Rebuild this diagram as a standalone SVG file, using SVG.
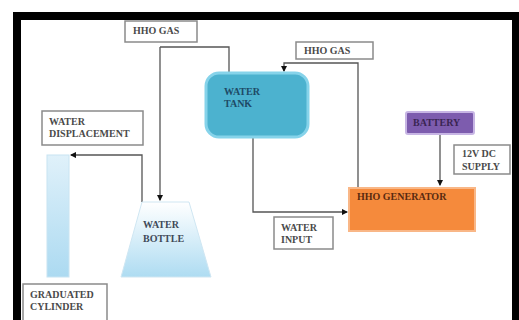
<svg xmlns="http://www.w3.org/2000/svg" width="519" height="320" viewBox="0 0 519 320">
<defs>
<style>
.lbl{fill:#fff;stroke:#8a8a8a;stroke-width:1.5}
.t{font-family:"Liberation Serif","Times New Roman",serif;font-size:10px;font-weight:bold;fill:#4a4a4a}
.con{fill:none;stroke:#555;stroke-width:1.3}
</style>
<linearGradient id="blue" x1="0" y1="0" x2="0" y2="1">
<stop offset="0" stop-color="#ffffff"/>
<stop offset="1" stop-color="#aedcf2"/>
</linearGradient>
<linearGradient id="cyl" x1="0" y1="0" x2="0" y2="1">
<stop offset="0" stop-color="#e0f1fa"/>
<stop offset="1" stop-color="#acdaf1"/>
</linearGradient>
<marker id="arr" viewBox="0 0 6 6" refX="5" refY="3" markerWidth="5" markerHeight="5" orient="auto">
<path d="M0,0 L6,3 L0,6 z" fill="#111"/>
</marker>
</defs>
<rect x="0" y="0" width="519" height="320" fill="#fff"/>
<rect x="17" y="16" width="499" height="320" fill="#fff" stroke="#000" stroke-width="8"/>

<g id="connectors">
<path class="con" d="M160,47 H229 V73"/>
<path class="con" d="M160,47 V200" marker-end="url(#arr)"/>
<path class="con" d="M142,202 V155 H71" marker-end="url(#arr)"/>
<path class="con" d="M358,187 V63 H284 V71" marker-end="url(#arr)"/>
<path class="con" d="M440,134 V185" marker-end="url(#arr)"/>
<path class="con" d="M253,137 V212 H347" marker-end="url(#arr)"/>
</g>

<g id="hho-gas-1">
<rect class="lbl" x="125" y="21" width="72" height="21"/>
<text class="t" x="133" y="34">HHO GAS</text>
</g>
<g id="hho-gas-2">
<rect class="lbl" x="296" y="42" width="77" height="17"/>
<text class="t" x="304" y="54">HHO GAS</text>
</g>
<g id="water-displacement">
<rect class="lbl" x="42" y="111" width="101" height="34"/>
<text class="t" x="49" y="125">WATER</text>
<text class="t" x="49" y="137">DISPLACEMENT</text>
</g>
<g id="water-tank">
<rect x="206" y="73" width="102" height="64" rx="13" fill="#4cb2cf" stroke="#86d3ea" stroke-width="3"/>
<text class="t" x="224" y="95" style="fill:#1e4a66">WATER</text>
<text class="t" x="224" y="107" style="fill:#1e4a66">TANK</text>
</g>
<g id="battery">
<rect x="406" y="112" width="68" height="22" rx="2" fill="#7d5cae" stroke="#c7b5e4" stroke-width="2"/>
<text class="t" x="413" y="126" style="fill:#3a2552">BATTERY</text>
</g>
<g id="supply">
<rect class="lbl" x="454" y="145" width="56" height="29"/>
<text class="t" x="462" y="157">12V DC</text>
<text class="t" x="462" y="170">SUPPLY</text>
</g>
<g id="hho-generator">
<rect x="349" y="188" width="126" height="43" fill="#f58a3c" stroke="#f9b787" stroke-width="2"/>
<text class="t" x="357" y="200" style="fill:#5a2a10">HHO GENERATOR</text>
</g>
<g id="water-input">
<rect class="lbl" x="274" y="217" width="59" height="32"/>
<text class="t" x="281" y="231">WATER</text>
<text class="t" x="281" y="243">INPUT</text>
</g>
<g id="water-bottle">
<path d="M142,202 H189 L211,277 H121 Z" fill="url(#blue)" stroke="#cfe6f2" stroke-width="1"/>
<text class="t" x="143" y="228" style="fill:#3f4a58">WATER</text>
<text class="t" x="143" y="242" style="fill:#3f4a58">BOTTLE</text>
</g>
<g id="graduated-cylinder">
<rect x="47" y="155" width="22" height="122" fill="url(#cyl)" stroke="#c8e4f2" stroke-width="1"/>
</g>
<g id="graduated-cylinder-label">
<rect class="lbl" x="23" y="284" width="84" height="40"/>
<text class="t" x="30" y="298">GRADUATED</text>
<text class="t" x="30" y="310">CYLINDER</text>
</g>
</svg>
